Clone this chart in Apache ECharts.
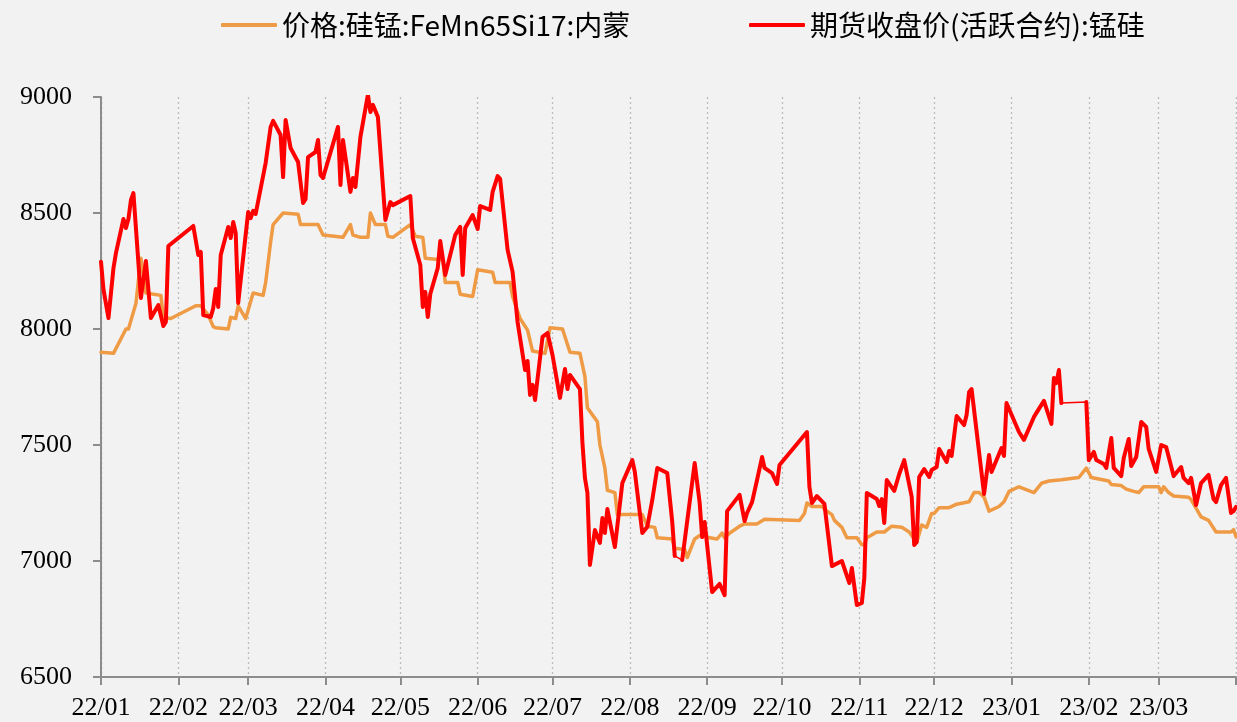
<!DOCTYPE html>
<html>
<head>
    <meta charset="utf-8"/>
    <title>硅锰价格</title>
    <script src="https://cdn.jsdelivr.net/npm/echarts@6/dist/echarts.min.js"></script>
</head>
<body style="margin:0;background:#f2f2f2;">

<div id="main" style="width: 1237px;height:722px;"></div>

<script>
    // 现货：价格:硅锰:FeMn65Si17:内蒙
    var spotName = '价格:硅锰:FeMn65Si17:内蒙';
    var spotDates = ['2022-01-01','2022-01-06','2022-01-11','2022-01-12','2022-01-15','2022-01-16','2022-01-17','2022-01-18','2022-01-19','2022-01-25',
        '2022-01-26','2022-01-29','2022-02-08','2022-02-10','2022-02-13','2022-02-15','2022-02-16','2022-02-21','2022-02-22','2022-02-24',
        '2022-02-25','2022-02-28','2022-03-03','2022-03-07','2022-03-08','2022-03-10','2022-03-11','2022-03-15','2022-03-21','2022-03-22',
        '2022-03-29','2022-03-31','2022-04-08','2022-04-11','2022-04-12','2022-04-15','2022-04-18','2022-04-19','2022-04-21','2022-04-25',
        '2022-04-26','2022-04-28','2022-05-05','2022-05-07','2022-05-10','2022-05-11','2022-05-16','2022-05-18','2022-05-19','2022-05-24',
        '2022-05-25','2022-05-30','2022-06-01','2022-06-07','2022-06-08','2022-06-14','2022-06-15','2022-06-18','2022-06-21','2022-06-23',
        '2022-06-28','2022-06-30','2022-07-05','2022-07-08','2022-07-12','2022-07-14','2022-07-15','2022-07-19','2022-07-20','2022-07-22',
        '2022-07-23','2022-07-26','2022-07-27','2022-08-06','2022-08-08','2022-08-11','2022-08-12','2022-08-18','2022-08-19','2022-08-23',
        '2022-08-24','2022-08-27','2022-08-29','2022-08-31','2022-09-02','2022-09-05','2022-09-07','2022-09-08','2022-09-10','2022-09-14',
        '2022-09-16','2022-09-21','2022-09-24','2022-10-08','2022-10-10','2022-10-11','2022-10-13','2022-10-17','2022-10-19','2022-10-21',
        '2022-10-22','2022-10-25','2022-10-27','2022-10-31','2022-11-02','2022-11-03','2022-11-04','2022-11-08','2022-11-11','2022-11-14',
        '2022-11-18','2022-11-21','2022-11-24','2022-11-26','2022-11-28','2022-11-30','2022-12-01','2022-12-03','2022-12-07','2022-12-10',
        '2022-12-15','2022-12-17','2022-12-19','2022-12-21','2022-12-23','2022-12-27','2022-12-29','2022-12-31','2023-01-04','2023-01-10',
        '2023-01-13','2023-01-16','2023-01-21','2023-01-28','2023-01-31','2023-02-02','2023-02-09','2023-02-10','2023-02-14','2023-02-16',
        '2023-02-19','2023-02-21','2023-02-23','2023-03-01','2023-03-02','2023-03-03','2023-03-05','2023-03-07','2023-03-13','2023-03-14',
        '2023-03-18','2023-03-21','2023-03-24','2023-03-30','2023-03-31','2023-04-01'];
    var spotValues = [7900,7895,8000,8000,8110,8210,8305,8230,8155,8145,
        8050,8045,8100,8100,8060,8010,8005,8000,8050,8045,
        8100,8045,8155,8145,8200,8375,8450,8500,8495,8450,
        8450,8405,8395,8450,8405,8395,8395,8500,8450,8450,
        8400,8395,8450,8400,8395,8305,8300,8300,8200,8200,
        8150,8140,8255,8245,8200,8200,8140,8045,7995,7905,
        7895,8005,8000,7900,7895,7795,7660,7600,7500,7400,
        7305,7295,7200,7200,7150,7145,7100,7095,7055,7050,
        7015,7095,7110,7110,7100,7095,7120,7100,7120,7150,
        7160,7160,7180,7175,7205,7250,7235,7235,7215,7200,
        7175,7145,7100,7100,7070,7070,7100,7125,7125,7150,
        7145,7125,7080,7155,7145,7205,7205,7230,7230,7245,
        7255,7295,7295,7275,7215,7235,7255,7300,7320,7295,
        7335,7345,7350,7360,7400,7360,7345,7330,7325,7310,
        7300,7295,7320,7320,7295,7320,7295,7280,7275,7265,
        7190,7175,7125,7125,7135,7105];

    // 期货收盘价(活跃合约):锰硅，null 为停盘缺口
    var futName = '期货收盘价(活跃合约):锰硅';
    var futDates = ['2022-01-01','2022-01-02','2022-01-04','2022-01-06','2022-01-07','2022-01-10','2022-01-11','2022-01-12','2022-01-13','2022-01-14',
        '2022-01-17','2022-01-19','2022-01-21','2022-01-24','2022-01-26','2022-01-27','2022-01-28','2022-02-07','2022-02-09','2022-02-10',
        '2022-02-11','2022-02-14','2022-02-15','2022-02-16','2022-02-17','2022-02-18','2022-02-21','2022-02-22','2022-02-23','2022-02-24',
        '2022-02-25','2022-03-01','2022-03-02','2022-03-03','2022-03-04','2022-03-08','2022-03-10','2022-03-11','2022-03-14','2022-03-15',
        '2022-03-16','2022-03-18','2022-03-21','2022-03-23','2022-03-24','2022-03-25','2022-03-28','2022-03-29','2022-03-30','2022-03-31',
        '2022-04-06','2022-04-07','2022-04-08','2022-04-11','2022-04-12','2022-04-13','2022-04-15','2022-04-18','2022-04-19','2022-04-20',
        '2022-04-22','2022-04-25','2022-04-27','2022-04-28','2022-05-05','2022-05-06','2022-05-09','2022-05-10','2022-05-11','2022-05-12',
        '2022-05-13','2022-05-16','2022-05-17','2022-05-19','2022-05-23','2022-05-25','2022-05-26','2022-05-27','2022-05-30','2022-06-01',
        '2022-06-02','2022-06-06','2022-06-07','2022-06-09','2022-06-10','2022-06-13','2022-06-15','2022-06-17','2022-06-20','2022-06-21',
        '2022-06-22','2022-06-23','2022-06-24','2022-06-27','2022-06-29','2022-07-01','2022-07-04','2022-07-06','2022-07-07','2022-07-08',
        '2022-07-12','2022-07-13','2022-07-14','2022-07-15','2022-07-16','2022-07-18','2022-07-20','2022-07-21','2022-07-22','2022-07-23',
        '2022-07-26','2022-07-29','2022-08-02','2022-08-03','2022-08-06','2022-08-08','2022-08-10','2022-08-12','2022-08-16','2022-08-18',
        '2022-08-19','2022-08-21','2022-08-22','2022-08-27','2022-08-29','2022-08-30','2022-08-31','2022-09-03','2022-09-06','2022-09-08',
        '2022-09-09','2022-09-14','2022-09-16','2022-09-17','2022-09-19','2022-09-21','2022-09-23','2022-09-24','2022-09-27','2022-09-29',
        '2022-09-30','2022-10-11','2022-10-12','2022-10-13','2022-10-15','2022-10-18','2022-10-21','2022-10-25','2022-10-28','2022-10-29',
        '2022-10-31','2022-11-02','2022-11-03','2022-11-04','2022-11-08','2022-11-09','2022-11-10','2022-11-11','2022-11-12','2022-11-15',
        '2022-11-17','2022-11-19','2022-11-22','2022-11-23','2022-11-24','2022-11-25','2022-11-27','2022-11-29','2022-11-30','2022-12-02',
        '2022-12-03','2022-12-06','2022-12-07','2022-12-08','2022-12-10','2022-12-13','2022-12-14','2022-12-15','2022-12-16','2022-12-21',
        '2022-12-23','2022-12-24','2022-12-28','2022-12-29','2022-12-30','2023-01-04','2023-01-06','2023-01-10','2023-01-14','2023-01-17',
        '2023-01-18','2023-01-19','2023-01-20','2023-01-21','2023-01-22','2023-01-31','2023-02-01','2023-02-03','2023-02-04','2023-02-07',
        '2023-02-08','2023-02-10','2023-02-11','2023-02-14','2023-02-15','2023-02-17','2023-02-18','2023-02-20','2023-02-22','2023-02-24',
        '2023-02-25','2023-02-28','2023-03-02','2023-03-04','2023-03-07','2023-03-10','2023-03-11','2023-03-13','2023-03-14','2023-03-16',
        '2023-03-18','2023-03-21','2023-03-23','2023-03-24','2023-03-26','2023-03-28','2023-03-30','2023-03-31','2023-04-01'];
    var futValues = [8290,8170,8047,8263,8328,8474,8435,8474,8556,8586,
        8134,8293,8047,8103,8013,8030,8358,8444,8319,8332,
        8060,8052,8090,8172,8095,8319,8440,8392,8461,8414,
        8112,8504,8478,8509,8496,8715,8871,8897,8836,8655,
        8901,8780,8720,8543,8560,8741,8763,8815,8664,8651,
        8871,8621,8815,8591,8651,8612,8828,9010,8935,8966,
        8914,8470,8547,8534,8573,8392,8276,8095,8160,8052,
        8151,8263,8379,8233,8405,8440,8233,8435,8491,8431,
        8530,8513,8591,8659,8647,8341,8246,8030,7823,7862,
        7716,7759,7694,7966,7983,7888,7703,7828,7741,7802,
        7741,7509,7358,7293,6983,7134,7078,7185,7121,7224,
        7060,7336,7435,7384,7121,7147,7263,7401,7379,7168,
        7022,null,7004,7422,7250,7103,7168,6866,6901,6853,
        7215,7285,7172,7207,7254,7349,7448,7401,7379,7332,
        7414,7556,7319,7250,7280,7246,6978,7000,6905,6970,
        6810,6819,6927,7293,7267,7237,7267,7164,7349,7302,
        7375,7435,7276,7069,7082,7362,7396,7362,7392,7405,
        7483,7427,7474,7453,7625,7586,7629,7728,7741,7289,
        7457,7384,7487,7453,7681,7556,7522,7621,7690,7591,
        7789,7767,7823,7681,null,7685,7435,7470,7435,7418,
        7401,7530,7401,7366,7444,7526,7409,7448,7599,7578,
        7483,7384,7500,7491,7366,7405,7358,7336,7358,7241,
        7336,7371,7267,7254,7327,7358,7207,7215,7233];

    var yTicks = [6500, 9000, 500];   // min, max, interval
    var xRange = ['2022-01-01', '2023-04-01'];

    function pairs(dates, values) {
        var out = [];
        for (var i = 0; i < dates.length; i++) {
            out.push([dates[i], values[i]]);
        }
        return out;
    }

    function pad(n) {
        return n < 10 ? '0' + n : '' + n;
    }

    var myChart = echarts.init(document.getElementById('main'));

    var labelFont = {color: '#000', fontFamily: 'Liberation Serif', fontSize: 26};
    var legendText = {color: '#000', fontFamily: 'Noto Sans CJK SC', fontSize: 28};
    var lastTick = echarts.time.parse(xRange[1]).getTime();

    var option = {
        backgroundColor: '#f2f2f2',
        animation: false,
        legend: [{
            data: [spotName],
            left: 216,
            top: 6,
            icon: 'roundRect',
            itemWidth: 56,
            itemHeight: 4,
            textStyle: legendText
        }, {
            data: [futName],
            left: 744,
            top: 6,
            icon: 'roundRect',
            itemWidth: 56,
            itemHeight: 4,
            textStyle: legendText
        }],
        grid: {
            left: 101,
            right: 1,
            top: 97,
            bottom: 45,
            outerBoundsMode: 'none',
            containLabel: false
        },
        xAxis: {
            type: 'time',
            min: xRange[0],
            max: xRange[1],
            splitNumber: 15,
            minInterval: 28 * 86400000,
            maxInterval: 31 * 86400000,
            axisLine: {lineStyle: {color: '#8c8c8c', width: 2}},
            axisTick: {show: true, length: 8, lineStyle: {color: '#8c8c8c', width: 2}},
            axisLabel: Object.assign({
                margin: 18,
                hideOverlap: false,
                formatter: function (val) {
                    if (val >= lastTick) {
                        return '';
                    }
                    var d = new Date(val);
                    return String(d.getFullYear()).slice(2) + '/' + pad(d.getMonth() + 1);
                }
            }, labelFont),
            splitLine: {show: true, lineStyle: {color: '#bcbcbc', width: 1.3, type: [2, 3]}}
        },
        yAxis: {
            type: 'value',
            min: yTicks[0],
            max: yTicks[1],
            interval: yTicks[2],
            axisLine: {show: true, lineStyle: {color: '#8c8c8c', width: 2}},
            axisTick: {show: true, length: 8, lineStyle: {color: '#8c8c8c', width: 2}},
            axisLabel: Object.assign({
                margin: 29,
                formatter: function (v) {
                    return String(v);
                }
            }, labelFont),
            splitLine: {show: false}
        },
        series: [{
            name: spotName,
            type: 'line',
            symbol: 'none',
            data: pairs(spotDates, spotValues),
            itemStyle: {color: '#ef9a44'},
            lineStyle: {color: '#ef9a44', width: 3.5, join: 'round', cap: 'round'}
        }, {
            name: futName,
            type: 'line',
            symbol: 'none',
            connectNulls: false,
            data: pairs(futDates, futValues),
            itemStyle: {color: '#ff0000'},
            lineStyle: {color: '#ff0000', width: 4, join: 'round', cap: 'round'}
        }, {
            // 缺口处的细连接线
            name: futName,
            type: 'line',
            symbol: 'none',
            connectNulls: true,
            data: pairs(futDates, futValues),
            itemStyle: {color: '#ff0000'},
            lineStyle: {color: '#ff0000', width: 1.5}
        }]
    };

    myChart.setOption(option);
</script>
</body>
</html>
